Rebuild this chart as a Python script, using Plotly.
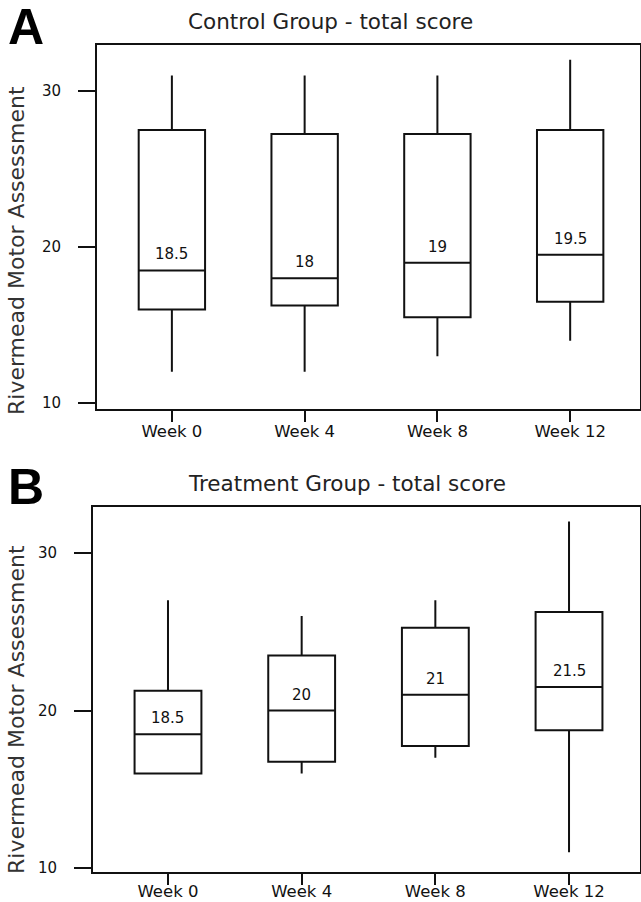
import plotly.graph_objects as go

weeks = ["Week 0", "Week 4", "Week 8", "Week 12"]

# Control group (panel A)
ctrl_low = [12, 12, 13, 14]
ctrl_q1 = [16, 16.25, 15.5, 16.5]
ctrl_median = [18.5, 18, 19, 19.5]
ctrl_q3 = [27.5, 27.25, 27.25, 27.5]
ctrl_high = [31, 31, 31, 32]

# Treatment group (panel B)
trt_low = [16, 16, 17, 11]
trt_q1 = [16, 16.75, 17.75, 18.75]
trt_median = [18.5, 20, 21, 21.5]
trt_q3 = [21.25, 23.5, 25.25, 26.25]
trt_high = [27, 26, 27, 32]

y_ticks = [10, 20, 30]
titles = ["Control Group - total score", "Treatment Group - total score"]
panel_letters = ["A", "B"]
y_title = "Rivermead Motor Assessment"

W, H = 641, 902
FONT = "DejaVu Sans"
INK = "#111111"

fig = go.Figure()

panels = [
    dict(low=ctrl_low, q1=ctrl_q1, med=ctrl_median, q3=ctrl_q3, high=ctrl_high,
         xa="x", ya="y", xdom=[97 / W, 640 / W], ydom=[1 - 409 / H, 1 - 45 / H],
         xr=[-0.564, 3.526], yr=[9.62, 32.95], xstand=-5),
    dict(low=trt_low, q1=trt_q1, med=trt_median, q3=trt_q3, high=trt_high,
         xa="x2", ya="y2", xdom=[93 / W, 640 / W], ydom=[1 - 872 / H, 1 - 507 / H],
         xr=[-0.561, 3.531], yr=[9.75, 32.92], xstand=-8),
]

annotations = []
for i, p in enumerate(panels):
    fig.add_trace(go.Box(
        x=weeks, lowerfence=p["low"], q1=p["q1"], median=p["med"], q3=p["q3"],
        upperfence=p["high"], xaxis=p["xa"], yaxis=p["ya"],
        width=0.5, whiskerwidth=0, fillcolor="white",
        line=dict(color=INK, width=2), boxpoints=False, showlegend=False,
        hoverinfo="skip",
    ))
    for w, m in zip(weeks, p["med"]):
        annotations.append(dict(
            x=w, y=m, xref=p["xa"], yref=p["ya"], text=f"{m:g}", showarrow=False,
            yshift=16, font=dict(family=FONT, size=15, color=INK),
        ))

axis_common = dict(showline=True, linecolor=INK, linewidth=2, mirror=True,
                   ticks="outside", tickcolor=INK, tickwidth=2, automargin=False,
                   showgrid=False, zeroline=False, fixedrange=True)

layout = dict(
    width=W, height=H, margin=dict(l=0, r=0, t=0, b=0, pad=0),
    paper_bgcolor="white", plot_bgcolor="white",
    font=dict(family=FONT, color=INK),
)
for i, p in enumerate(panels):
    suf = "" if i == 0 else "2"
    layout["xaxis" + suf] = dict(
        axis_common, domain=p["xdom"], range=p["xr"], anchor="y" + suf,
        type="category", ticklen=11, ticklabelstandoff=p["xstand"],
        tickfont=dict(family=FONT, size=16.5, color=INK),
    )
    layout["yaxis" + suf] = dict(
        axis_common, domain=p["ydom"], range=p["yr"], anchor="x" + suf,
        tickvals=y_ticks, ticklen=17, ticklabelstandoff=14,
        tickfont=dict(family=FONT, size=15, color=INK),
    )

# Titles, panel letters and y-axis titles
title_pos = [(330, 21), (347, 483)]
letter_pos = [(26, 27), (26, 487)]
ytitle_pos = [(16, 251), (16, 710)]
for i in range(2):
    tx, ty = title_pos[i]
    annotations.append(dict(x=tx / W, y=1 - ty / H, xref="paper", yref="paper",
                            text=titles[i], showarrow=False, xanchor="center", yanchor="middle",
                            font=dict(family=FONT, size=21.5, color="#222222")))
    lx, ly = letter_pos[i]
    annotations.append(dict(x=lx / W, y=1 - ly / H, xref="paper", yref="paper",
                            text=f"<b>{panel_letters[i]}</b>", showarrow=False,
                            xanchor="center", yanchor="middle",
                            font=dict(family="Liberation Sans", size=50, color="#000000")))
    yx, yy = ytitle_pos[i]
    annotations.append(dict(x=yx / W, y=1 - yy / H, xref="paper", yref="paper",
                            text=y_title, showarrow=False, textangle=-90,
                            xanchor="center", yanchor="middle",
                            font=dict(family=FONT, size=22, color="#333333")))

layout["annotations"] = annotations
fig.update_layout(**layout)
fig.write_html(
    "out.html",
    config={"responsive": False, "displayModeBar": False},
    post_script="document.body.style.margin='0';document.body.style.overflow='hidden';",
)
